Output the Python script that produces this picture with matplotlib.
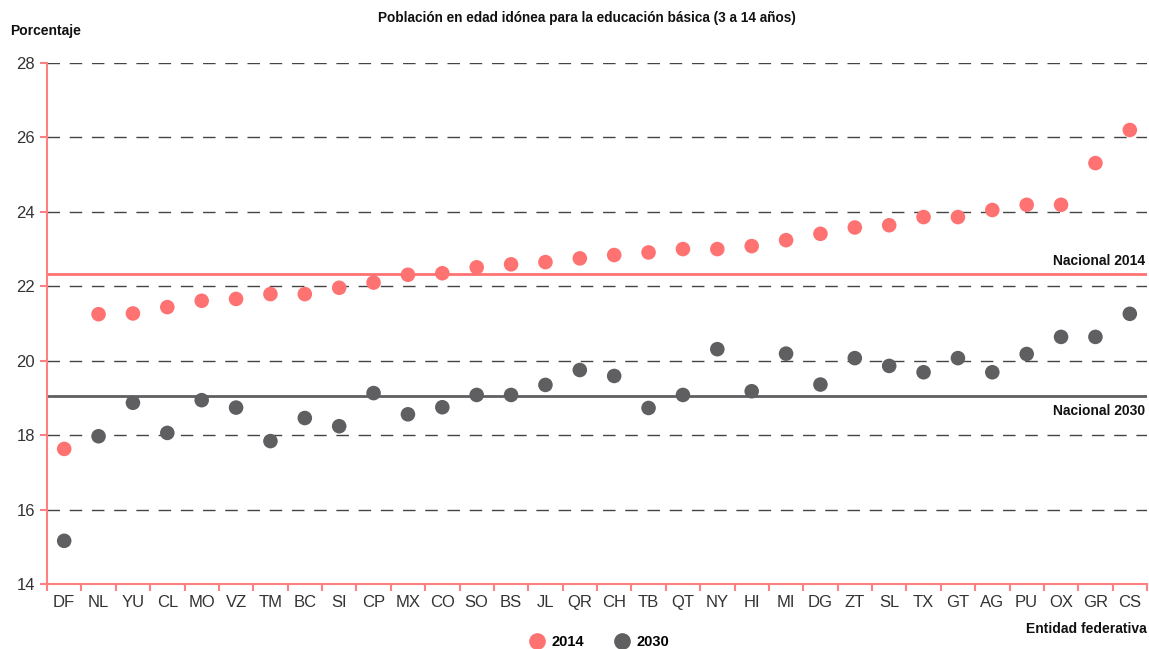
import matplotlib.pyplot as plt
import numpy as np

# Datos
estados = ['DF', 'NL', 'YU', 'CL', 'MO', 'VZ', 'TM', 'BC', 'SI', 'CP', 'MX', 'CO',
           'SO', 'BS', 'JL', 'QR', 'CH', 'TB', 'QT', 'NY', 'HI', 'MI', 'DG', 'ZT',
           'SL', 'TX', 'GT', 'AG', 'PU', 'OX', 'GR', 'CS']
pct_2014 = [17.63, 21.25, 21.27, 21.44, 21.61, 21.66, 21.79, 21.79, 21.96, 22.10,
            22.31, 22.35, 22.51, 22.59, 22.65, 22.75, 22.84, 22.91, 23.00, 23.00,
            23.08, 23.24, 23.41, 23.58, 23.64, 23.86, 23.86, 24.05, 24.19, 24.19,
            25.31, 26.20]
pct_2030 = [15.16, 17.97, 18.87, 18.06, 18.94, 18.74, 17.84, 18.46, 18.24, 19.13,
            18.56, 18.75, 19.08, 19.08, 19.35, 19.75, 19.59, 18.73, 19.08, 20.31,
            19.18, 20.19, 19.36, 20.07, 19.86, 19.69, 20.07, 19.69, 20.18, 20.64,
            20.64, 21.26]
nacional_2014 = 22.34
nacional_2030 = 19.05
y_ticks = [14, 16, 18, 20, 22, 24, 26, 28]

rojo = '#ff7272'
gris = '#5f5f62'
eje = '#ff8080'

plt.rcParams['font.family'] = ['Liberation Sans', 'DejaVu Sans']

fig = plt.figure(figsize=(11.49, 6.49), dpi=100)
ax = fig.add_axes([47 / 1149, 65 / 649, 1100 / 1149, 521 / 649])

x = np.arange(len(estados))

# lineas de cuadricula
for v in y_ticks[1:]:
    ax.axhline(v, color='#444444', lw=1, dashes=(9, 7), zorder=1)

ax.axhline(nacional_2014, color=rojo, lw=2, zorder=2)
ax.axhline(nacional_2030, color=gris, lw=2, zorder=2)

ax.scatter(x, pct_2014, s=110, color=rojo, edgecolors='none', zorder=3)
ax.scatter(x, pct_2030, s=110, color=gris, edgecolors='none', zorder=3)

ax.set_xlim(-0.5, len(estados) - 0.5)
ax.set_ylim(14, 28)
ax.set_yticks(y_ticks)
ax.set_xticks(x)
ax.set_xticklabels(estados)
ax.set_xticks(np.arange(len(estados) + 1) - 0.5, minor=True)
ax.tick_params(axis='x', which='major', length=0, pad=8, labelsize=12, labelcolor='#333333')
ax.tick_params(axis='x', which='minor', length=5, color=eje, width=1.5)
ax.tick_params(axis='y', length=5, color=eje, width=1.5, labelsize=12, labelcolor='#333333')

for s in ['top', 'right']:
    ax.spines[s].set_visible(False)
for s in ['left', 'bottom']:
    ax.spines[s].set_color(eje)
    ax.spines[s].set_linewidth(1.5)

ax.text(len(estados) - 0.55, nacional_2014 + 0.15, 'Nacional 2014', ha='right', va='bottom',
        fontsize=10, fontweight='bold', color='#111111')
ax.text(len(estados) - 0.55, nacional_2030 - 0.22, 'Nacional 2030', ha='right', va='top',
        fontsize=10, fontweight='bold', color='#111111')

fig.text(587 / 1149, 1 - 18 / 649, 'Población en edad idónea para la educación básica (3 a 14 años)',
         ha='center', va='center', fontsize=9.8, fontweight='bold', color='#111111')
fig.text(10 / 1149, 1 - 31 / 649, 'Porcentaje', ha='left', va='center',
         fontsize=10, fontweight='bold', color='#111111')
fig.text(1147 / 1149, 1 - 629 / 649, 'Entidad federativa', ha='right', va='center',
         fontsize=10, fontweight='bold', color='#111111')

# leyenda
h1 = plt.Line2D([], [], marker='o', ls='', color=rojo, markersize=11)
h2 = plt.Line2D([], [], marker='o', ls='', color=gris, markersize=11)
leg = fig.legend([h1, h2], ['2014', '2030'], loc='center', bbox_to_anchor=(596 / 1149, 1 - 642 / 649),
                 ncol=2, frameon=False, handletextpad=0.0, columnspacing=1.6,
                 prop={'weight': 'bold', 'size': 10.5})

fig.savefig('out.png', dpi=100)
